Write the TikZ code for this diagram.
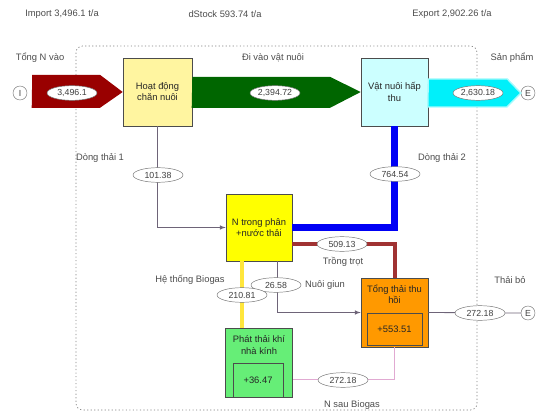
\documentclass[tikz,border=0pt]{standalone}
\usepackage{fontspec}
\setmainfont{Liberation Sans}
\usepackage{tikz}
\usetikzlibrary{arrows, shapes.geometric}
\definecolor{flowred}{RGB}{153,0,0}
\definecolor{flowgreen}{RGB}{0,102,0}
\definecolor{flowcyan}{RGB}{0,240,250}
\definecolor{flowblue}{RGB}{0,0,245}
\definecolor{flowbrown}{RGB}{160,50,50}
\definecolor{flowyellow}{RGB}{255,230,60}
\definecolor{flowpink}{RGB}{225,170,210}
\definecolor{flowgrey}{RGB}{110,100,120}
\definecolor{boxcream}{RGB}{255,245,160}
\definecolor{boxcyan}{RGB}{204,255,255}
\definecolor{boxyellow}{RGB}{255,255,0}
\definecolor{boxorange}{RGB}{255,153,0}
\definecolor{boxgreen}{RGB}{102,238,119}
\tikzstyle{flow-box}=[draw=black!70, line width=0.5pt, rectangle, align=center, text=black!85, inner sep=1pt, font=\fontsize{8}{9.5}\selectfont]
\tikzstyle{inner-box}=[draw=black!70, line width=0.5pt, rectangle, text=black!85, font=\fontsize{8}{9.5}\selectfont]
\tikzstyle{flow-value}=[draw=black!55, fill=white, ellipse, minimum width=15mm, minimum height=4.4mm, inner sep=0pt, text=black!75, font=\fontsize{7.5}{9}\selectfont]
\tikzstyle{flow-name}=[text=black!70, font=\fontsize{8}{9.5}\selectfont]
\tikzstyle{end-point}=[draw=black!55, fill=white, circle, minimum size=4.2mm, inner sep=0pt, text=black!75, font=\fontsize{7.5}{9}\selectfont]
\tikzstyle{thin-flow}=[draw=flowgrey, line width=0.7pt]

\begin{document}
\begin{tikzpicture}[x=0.3mm, y=-0.3mm]
\useasboundingbox (0,0) rectangle (547,419);

\node[flow-name] (import) at (62,14) {Import 3,496.1 t/a};
\node[flow-name] (dstock) at (225,14) {dStock 593.74 t/a};
\node[flow-name] (export) at (452,14) {Export 2,902.26 t/a};

\draw [black!50][line width=0.6pt][dash pattern=on 1pt off 2pt][rounded corners=2mm] (76,46) rectangle (477,410);

\node[flow-name] (tong-n) at (40,58) {Tổng N vào};
\node[flow-name] (di-vao) at (273,58) {Đi vào vật nuôi};
\node[flow-name] (san-pham) at (512,58) {Sản phẩm};
\node[flow-name] (dong-1) at (100,158) {Dòng thải 1};
\node[flow-name] (dong-2) at (442,158) {Dòng thải 2};
\node[flow-name] (trong-trot) at (343,262) {Trồng trọt};
\node[flow-name] (he-biogas) at (190,280) {Hệ thống Biogas};
\node[flow-name] (nuoi-giun) at (325,285) {Nuôi giun};
\node[flow-name] (thai-bo) at (510,280) {Thải bỏ};
\node[flow-name] (sau-biogas) at (352,405) {N sau Biogas};

\node[end-point] (in-circ) at (20,93) {I};
\node[end-point] (out-circ) at (528,93) {E};
\node[end-point] (bo-circ) at (528,313) {E};

\node[flow-box, fill=boxcream, minimum width=20.7mm, minimum height=20.4mm] (hoat-dong) at (157.5,92) {Hoạt động\\chăn nuôi};
\node[flow-box, fill=boxcyan, minimum width=20.1mm, minimum height=20.4mm] (vat-nuoi) at (394.5,92) {Vật nuôi hấp\\thu};
\node[flow-box, fill=boxyellow, minimum width=19.8mm, minimum height=20.1mm] (phan-nuoc) at (259,227.5) {N trong phân\\+nước thải};
\node[flow-box, fill=boxorange, minimum width=20.1mm, minimum height=20.7mm] (tong-thai) at (394.5,312.5) {};
\node[flow-box, fill=boxgreen, minimum width=20.1mm, minimum height=20.7mm] (khi-nk) at (259,362.5) {};
\node[flow-name, text=black!85, align=center] (tong-thai-txt) at (394.5,294) {Tổng thải thu\\hồi};
\node[inner-box, minimum width=16.5mm, minimum height=9.6mm] (tong-thai-val) at (394.5,329) {+553.51};
\node[flow-name, text=black!85, align=center] (khi-nk-txt) at (259,345) {Phát thải khí\\nhà kính};
\node[inner-box, minimum width=15mm, minimum height=10.2mm] (khi-nk-val) at (258,380) {+36.47};

\fill [flowred] (in-circ.east) ++(5,-18) -- ++(68,0) -- (hoat-dong.west) -- ++(-23,16) -- ++(-68,0) -- cycle;
\fill [flowgreen] (hoat-dong.east) ++(0,-15) -- ++(138,0) -- (vat-nuoi.west) -- ++(-31,16) -- ++(-138,0) -- cycle;
\filldraw [fill=flowcyan][draw=flowcyan!35][line width=1.2pt] (vat-nuoi.east) ++(0,-13) -- ++(79,0) -- (out-circ.west) -- ++(-14,14) -- ++(-79,0) -- cycle;

\draw [thin-flow][-latex] (hoat-dong.south) |- (phan-nuoc.west);
\draw [flowblue][line width=2mm] (vat-nuoi.south) |- (phan-nuoc.east);
\draw [flowbrown][line width=1.2mm] ([yshift=-5mm]phan-nuoc.east) -| (tong-thai.north);
\draw [thin-flow][-latex] ([xshift=5.4mm]phan-nuoc.south) |- (tong-thai.west);
\draw [flowyellow][line width=1.2mm] ([xshift=-5.1mm]phan-nuoc.south) -- ([xshift=-5.1mm]khi-nk.north);
\draw [flowpink][line width=0.8pt] ([yshift=-5.2mm]khi-nk.east) -| (tong-thai.south);
\draw [thin-flow] (tong-thai.east) -- (bo-circ.west);

\node[flow-value] (v-vao) at (72,93) {3,496.1};
\node[flow-value] (v-vat-nuoi) at (275,93) {2,394.72};
\node[flow-value] (v-san-pham) at (478,93) {2,630.18};
\node[flow-value] (v-dong-1) at (158,175) {101.38};
\node[flow-value] (v-dong-2) at (395,174) {764.54};
\node[flow-value] (v-trong-trot) at (342,244) {509.13};
\node[flow-value] (v-nuoi-giun) at (276,285) {26.58};
\node[flow-value] (v-biogas) at (242,295) {210.81};
\node[flow-value] (v-sau-biogas) at (343,380) {272.18};
\node[flow-value] (v-thai-bo) at (480,313) {272.18};
\end{tikzpicture}
\end{document}
